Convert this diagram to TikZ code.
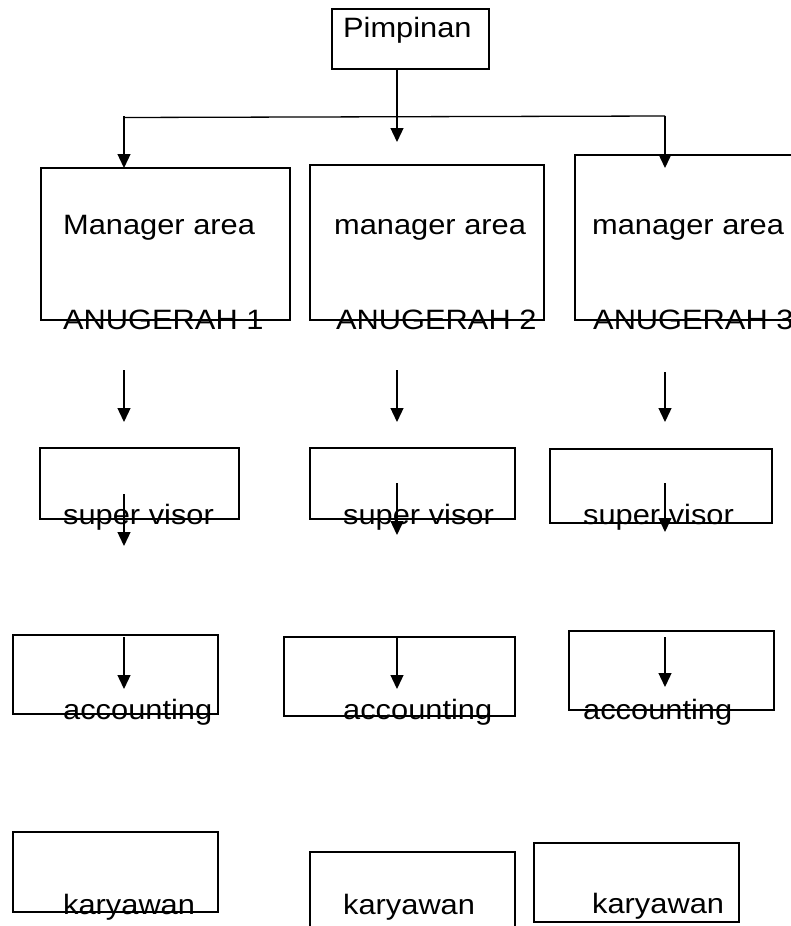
\documentclass[tikz,border=0pt]{standalone}
\usepackage{fontspec}
\setmainfont{Liberation Sans}
\newfontfamily\lblfont[FakeStretch=1.1]{Liberation Sans}
\usetikzlibrary{arrows.meta,fit}
\begin{document}
\begin{tikzpicture}[x=1pt,y=-1pt,
  box/.style={draw=black,line width=1.6pt,inner sep=0pt},
  lbl/.style={anchor=base west,inner sep=0pt,font=\lblfont\fontsize{28}{34}\selectfont},
  arr/.style={draw=black,line width=1.3pt,-{Triangle[length=14pt,width=13pt]}},
  ln/.style={draw=black,line width=1.3pt}]
\useasboundingbox (0,0) rectangle (791,926);
\clip (0,0) rectangle (791,926);
% boxes
\node[box,fit={(332,9)(489,69)}] (P) {};
\node[box,fit={(41,168)(290,320)}] (M1) {};
\node[box,fit={(310,165)(544,320)}] (M2) {};
\node[box,fit={(575,155)(820,320)}] (M3) {};
\node[box,fit={(40,448)(239,519)}] (S1) {};
\node[box,fit={(310,448)(515,519)}] (S2) {};
\node[box,fit={(550,449)(772,523)}] (S3) {};
\node[box,fit={(13,635)(218,714)}] (A1) {};
\node[box,fit={(284,637)(515,716)}] (A2) {};
\node[box,fit={(569,631)(774,710)}] (A3) {};
\node[box,fit={(13,832)(218,912)}] (K1) {};
\node[box,fit={(310,852)(515,945)}] (K2) {};
\node[box,fit={(534,843)(739,922)}] (K3) {};
% texts
\node[lbl] (tP) at (343,37.5) {Pimpinan};
\node[lbl] (tM1) at (63,234) {Manager area};
\node[lbl] (tM2) at (334,234) {manager area};
\node[lbl] (tM3) at (592,234) {manager area};
\node[lbl] (tN1) at (63,329) {ANUGERAH 1};
\node[lbl] (tN2) at (336,329) {ANUGERAH 2};
\node[lbl] (tN3) at (593,329) {ANUGERAH 3};
\node[lbl] (tS1) at (63,524) {super visor};
\node[lbl] (tS2) at (343,524) {super visor};
\node[lbl] (tS3) at (583,524) {super visor};
\node[lbl] (tA1) at (63,719) {accounting};
\node[lbl] (tA2) at (343,719) {accounting};
\node[lbl] (tA3) at (583,719) {accounting};
\node[lbl] (tK1) at (63,914) {karyawan};
\node[lbl] (tK2) at (343,914) {karyawan};
\node[lbl] (tK3) at (592,913) {karyawan};
% connector points
\coordinate (hl) at (124,117.5);
\coordinate (hr) at (665,116);
\coordinate (hlt) at (124,116);
\coordinate (t0) at (397,142);
\coordinate (t1) at (124,168);
\coordinate (t3) at (665,168);
\coordinate (b1s) at (124,370); \coordinate (b1e) at (124,422);
\coordinate (b2s) at (397,370); \coordinate (b2e) at (397,422);
\coordinate (b3s) at (665,372); \coordinate (b3e) at (665,422);
\coordinate (c1s) at (124,494); \coordinate (c1e) at (124,546);
\coordinate (c2s) at (397,483); \coordinate (c2e) at (397,535);
\coordinate (c3s) at (665,483); \coordinate (c3e) at (665,532);
\coordinate (d1s) at (124,637); \coordinate (d1e) at (124,689);
\coordinate (d2s) at (397,637); \coordinate (d2e) at (397,689);
\coordinate (d3s) at (665,637); \coordinate (d3e) at (665,687);
% connectors
\draw[arr] (P.south -| t0) -- (t0);
\draw[ln] (hl) -- (hr);
\draw[arr] (hlt) -- (t1);
\draw[arr] (hr) -- (t3);
\draw[arr] (b1s) -- (b1e);
\draw[arr] (b2s) -- (b2e);
\draw[arr] (b3s) -- (b3e);
\draw[arr] (c1s) -- (c1e);
\draw[arr] (c2s) -- (c2e);
\draw[arr] (c3s) -- (c3e);
\draw[arr] (d1s) -- (d1e);
\draw[arr] (d2s) -- (d2e);
\draw[arr] (d3s) -- (d3e);
\end{tikzpicture}
\end{document}
